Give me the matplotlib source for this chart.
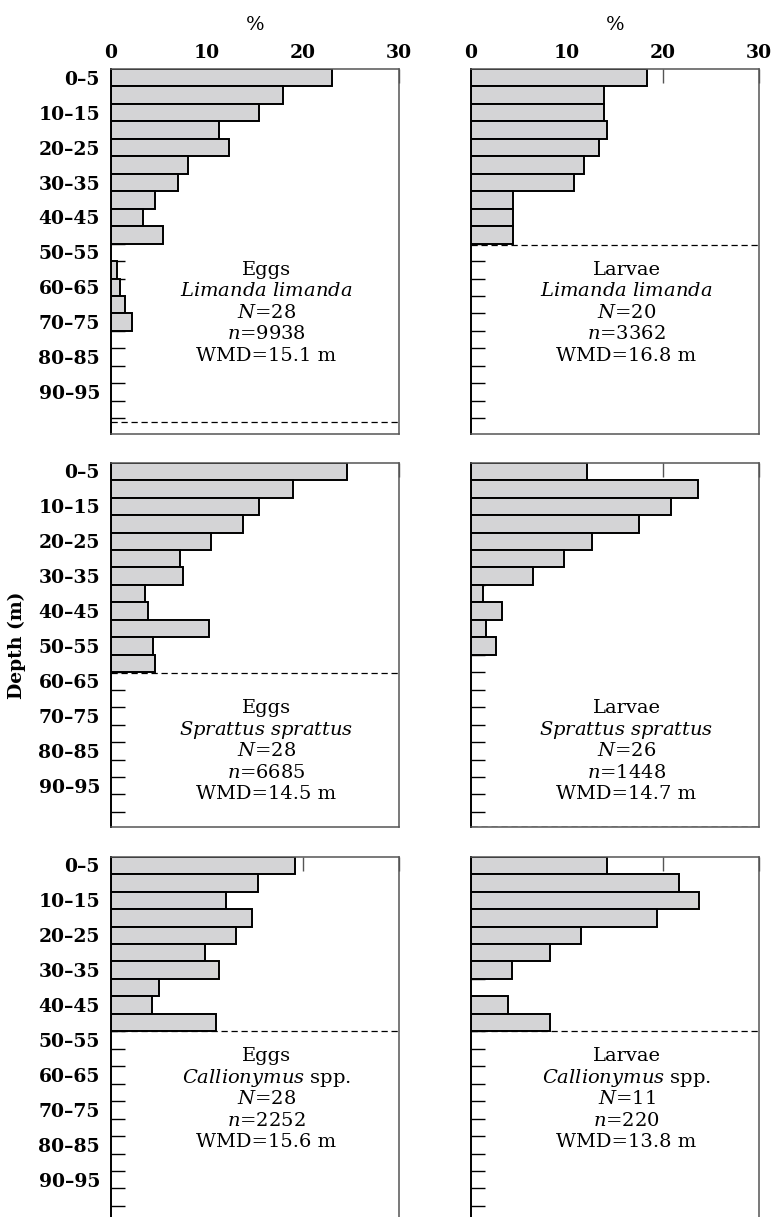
import matplotlib
matplotlib.use("Agg")
import matplotlib.pyplot as plt
import numpy as np

plt.rcParams['font.family'] = 'DejaVu Serif'
plt.rcParams['mathtext.fontset'] = 'dejavuserif'

# percentage of catch per 5 m depth bin (0-5, 5-10, ...)
limanda_eggs = [23.0, 17.9, 15.4, 11.3, 12.3, 8.0, 7.0, 4.6, 3.3, 5.4, 0, 0.6, 0.9, 1.5, 2.2]
limanda_larvae = [18.3, 13.9, 13.9, 14.2, 13.3, 11.8, 10.7, 4.4, 4.4, 4.4]
sprattus_eggs = [24.6, 19.0, 15.4, 13.7, 10.4, 7.2, 7.5, 3.5, 3.9, 10.2, 4.4, 4.6]
sprattus_larvae = [12.1, 23.6, 20.8, 17.5, 12.6, 9.7, 6.5, 1.2, 3.2, 1.6, 2.6]
callionymus_eggs = [19.2, 15.3, 12.0, 14.7, 13.0, 9.8, 11.3, 5.0, 4.3, 10.9]
callionymus_larvae = [14.2, 21.7, 23.8, 19.4, 11.5, 8.2, 4.3, 0, 3.9, 8.2]

stages = ['Eggs', 'Larvae']
species = [r'$\mathit{Limanda\ limanda}$', r'$\mathit{Sprattus\ sprattus}$', r'$\mathit{Callionymus}$ spp.']
n_stations = [[28, 20], [28, 26], [28, 11]]
n_fish = [[9938, 3362], [6685, 1448], [2252, 220]]
wmd = [[15.1, 16.8], [14.5, 14.7], [15.6, 13.8]]
bottom_depth = [[101.0, 50.4], [60.3, 104.2], [50.0, 50.0]]

depth_labels = ['0–5', '10–15', '20–25', '30–35', '40–45', '50–55', '60–65', '70–75', '80–85', '90–95']
pct_ticks = [0, 10, 20, 30]

values = [[limanda_eggs, limanda_larvae],
          [sprattus_eggs, sprattus_larvae],
          [callionymus_eggs, callionymus_larvae]]

fig = plt.figure(figsize=(7.74, 12.17), dpi=100)

col_x = [111 / 774, 471 / 774]
row_top = [69, 462.7, 856.7]
ax_w = 288 / 774
ax_h = 364.6 / 1217
text_y = [57.5, 70.3, 57.2]
ymax = 104.4

for r in range(3):
    for c in range(2):
        y0 = 1 - (row_top[r] + 364.6) / 1217
        ax = fig.add_axes([col_x[c], y0, ax_w, ax_h])
        vals = np.array(values[r][c])
        centers = 2.5 + 5 * np.arange(len(vals))
        keep = vals > 0
        ax.barh(centers[keep], vals[keep], height=5, left=0, color='#d4d4d6',
                edgecolor='black', linewidth=1.4, zorder=2)
        ax.axhline(bottom_depth[r][c], color='black', linewidth=0.9,
                   dashes=(5, 3), zorder=3)
        ax.set_xlim(0, 30)
        ax.set_ylim(ymax, 0)

        ax.xaxis.tick_top()
        ax.set_xticks(pct_ticks)
        ax.tick_params(axis='x', direction='in', length=10, width=1, color='#555555',
                       labelsize=13.5, pad=5)
        if r == 0:
            ax.set_xticklabels([str(t) for t in pct_ticks], fontweight='bold')
            ax.set_xlabel('%', fontsize=14, labelpad=10)
            ax.xaxis.set_label_position('top')
        else:
            ax.set_xticklabels([])

        ax.set_yticks(np.arange(5, 101, 5))
        ax.set_yticklabels([])
        ax.tick_params(axis='y', which='major', direction='in', length=10, width=1,
                       color='black')
        ax.set_yticks(2.5 + 10 * np.arange(len(depth_labels)), minor=True)
        if c == 0:
            ax.set_yticklabels(depth_labels, minor=True, fontweight='bold')
        else:
            ax.set_yticklabels([], minor=True)
        ax.tick_params(axis='y', which='minor', length=0, labelsize=13.5, pad=8)

        for name, sp in ax.spines.items():
            sp.set_color('#555555')
            sp.set_linewidth(1.1)
        ax.spines['left'].set_color('black')
        ax.spines['left'].set_linewidth(1.4)

        lines = [stages[c], species[r],
                 r'$\mathit{N}$=' + str(n_stations[r][c]),
                 r'$\mathit{n}$=' + str(n_fish[r][c]),
                 'WMD=%.1f m' % wmd[r][c]]
        for i, line in enumerate(lines):
            ax.text(16.2, text_y[r] + 6.15 * i, line, ha='center', va='center',
                    fontsize=14, zorder=4)

fig.text(17 / 774, 1 - 645 / 1217, 'Depth (m)', rotation=90, ha='center', va='center',
         fontsize=13.5, fontweight='bold')

fig.savefig('out.png', dpi=100)
